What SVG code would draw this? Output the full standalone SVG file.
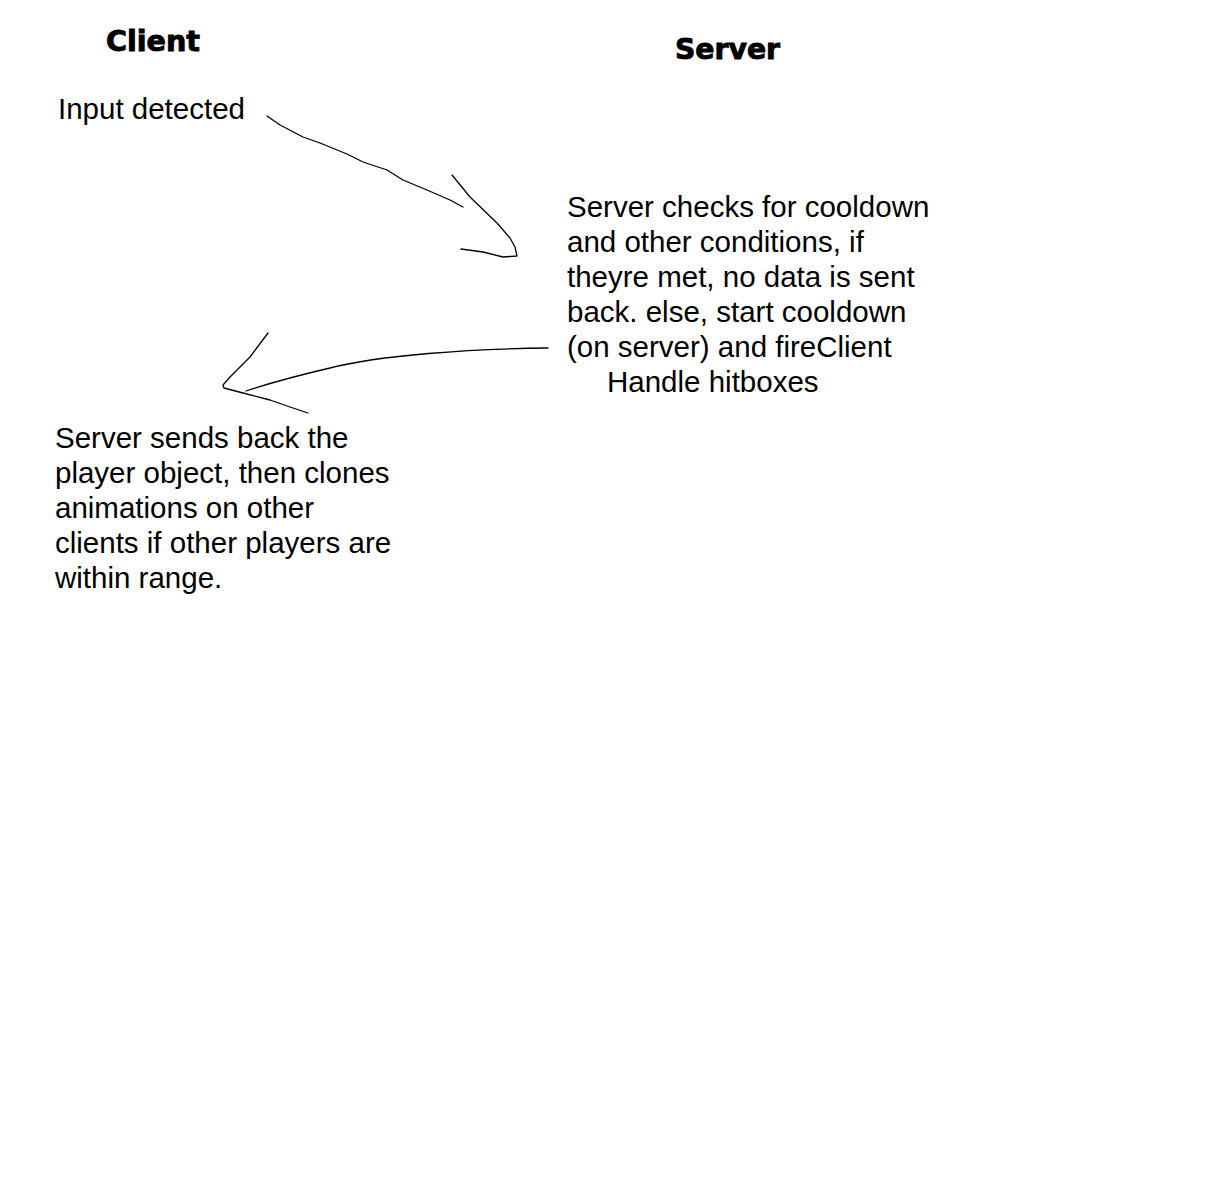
<svg xmlns="http://www.w3.org/2000/svg" width="1226" height="1199" viewBox="0 0 1226 1199">
<style>
.t{font-family:"Liberation Sans",Arial,sans-serif;font-size:29.5px;fill:#000}
.h{font-family:"DejaVu Sans","Liberation Sans",sans-serif;font-weight:900;font-size:28px;fill:#000;stroke:#000;stroke-width:0.9}
.c{fill:none;stroke:#000;stroke-width:1.3;stroke-linejoin:round;stroke-linecap:round}
</style>
<rect width="1226" height="1199" fill="#fff"/>
<g id="client-title"><text class="h" x="106" y="51" textLength="94" lengthAdjust="spacingAndGlyphs">Client</text></g>
<g id="server-title"><text class="h" x="675" y="59" textLength="105" lengthAdjust="spacingAndGlyphs">Server</text></g>
<g id="input-detected"><text class="t" x="58" y="119">Input detected</text></g>
<g id="server-checks">
<text class="t" x="567" y="217">Server checks for cooldown</text>
<text class="t" x="567" y="252">and other conditions, if</text>
<text class="t" x="567" y="287">theyre met, no data is sent</text>
<text class="t" x="567" y="322">back. else, start cooldown</text>
<text class="t" x="567" y="357">(on server) and fireClient</text>
<text class="t" x="607" y="392">Handle hitboxes</text>
</g>
<g id="server-sends-back">
<text class="t" x="55" y="448">Server sends back the</text>
<text class="t" x="55" y="483">player object, then clones</text>
<text class="t" x="55" y="518">animations on other</text>
<text class="t" x="55" y="553">clients if other players are</text>
<text class="t" x="55" y="588">within range.</text>
</g>
<g id="connectors">
<polyline class="c" points="267,116 280,125 303,137 320,143 347,154 363,162 387,170 403,180 427,190 450,200 463,207"/>
<polyline class="c" points="452,175 470,197 497,223 510,238 515,247 517,256 503,257 483,252 461,249"/>
<path class="c" d="M548,348 C470,349 380,355 330,368 C300,375 270,383 246,391"/>
<polyline class="c" points="268,333 250,357 230,377 223,385 224,388 243,393 270,400 290,407 308,413"/>
</g>
</svg>
